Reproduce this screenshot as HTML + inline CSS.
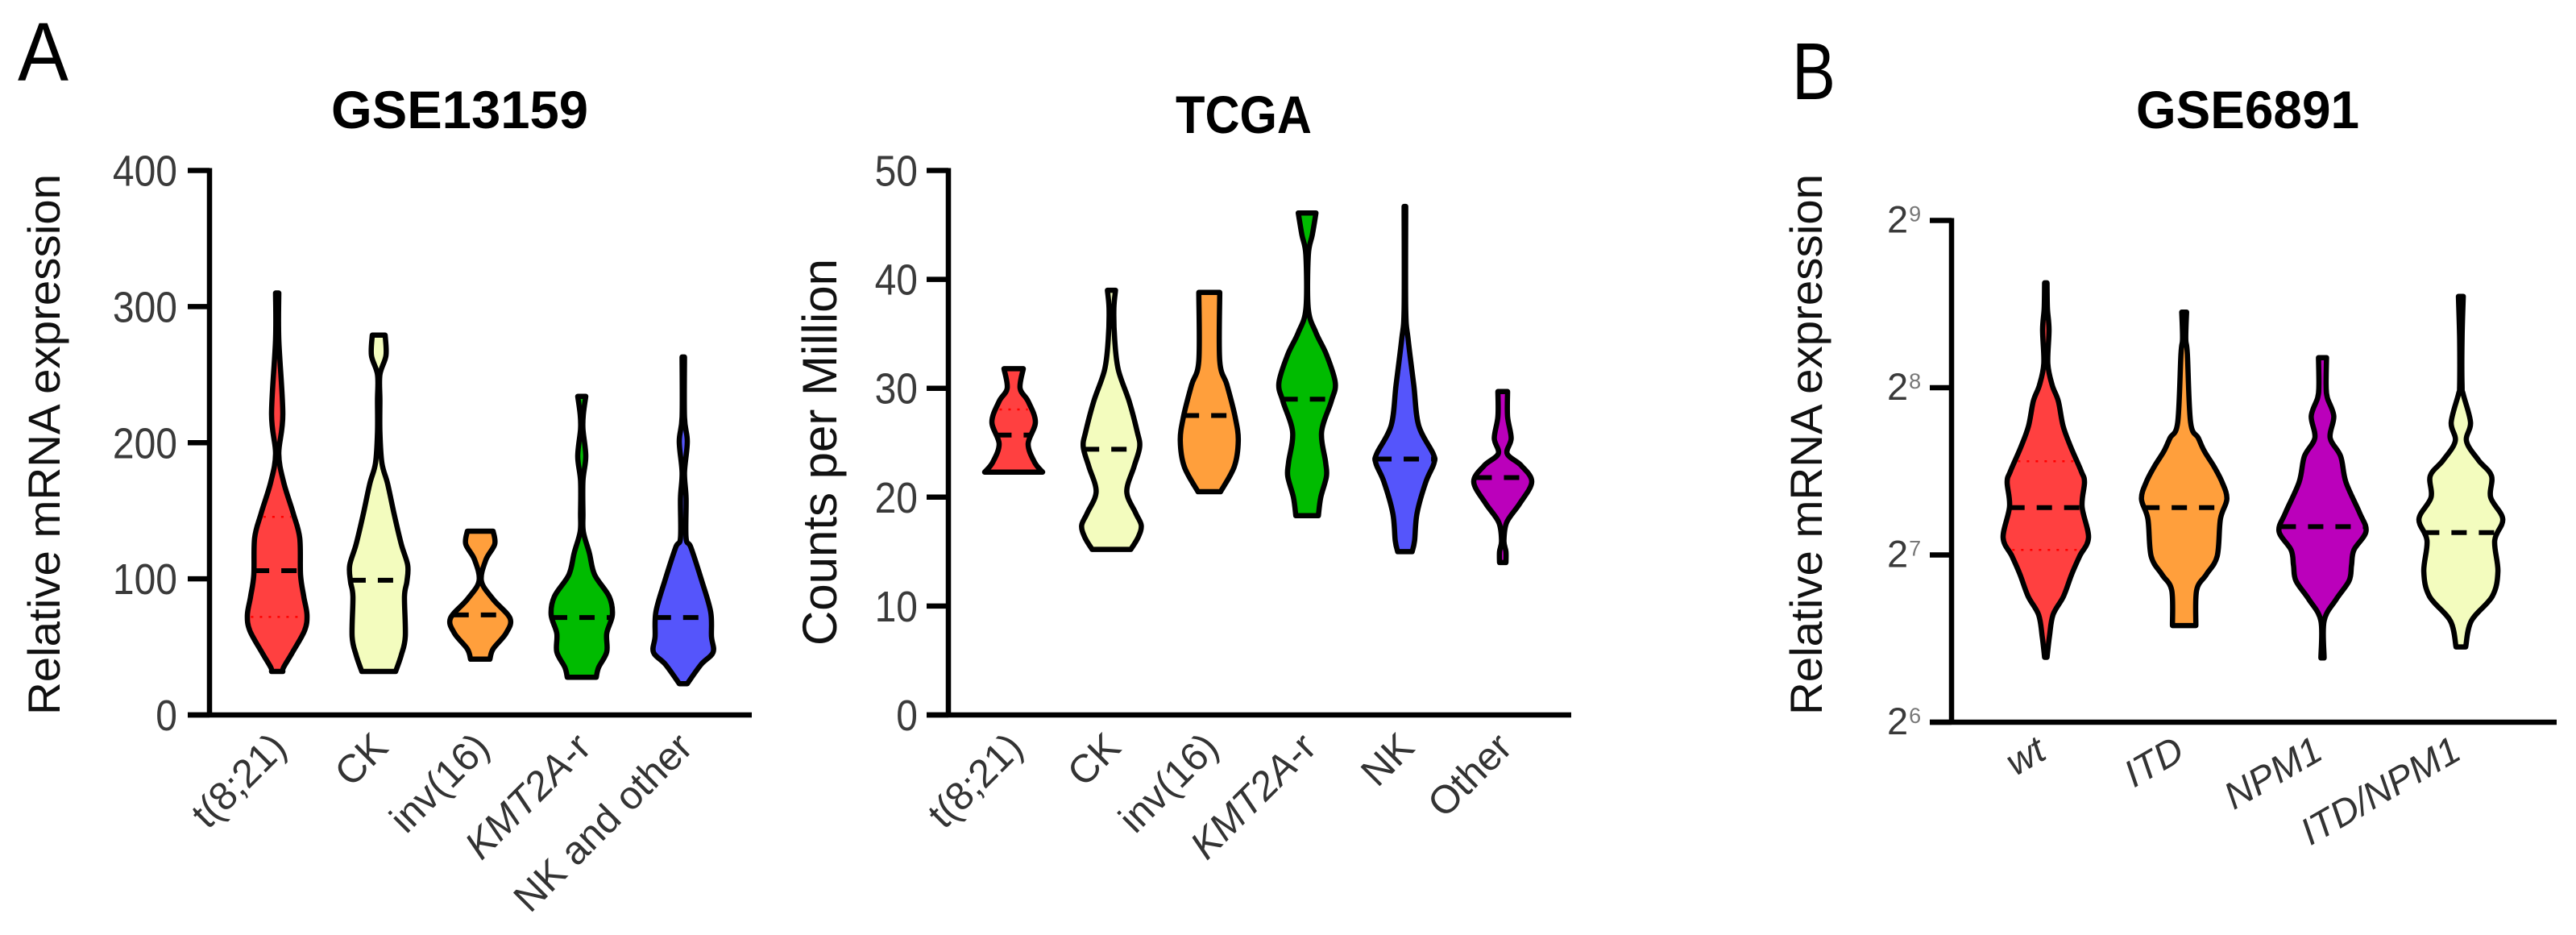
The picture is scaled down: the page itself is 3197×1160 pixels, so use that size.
<!DOCTYPE html>
<html lang="en">
<head>
<meta charset="utf-8">
<title>Violin plots of relative mRNA expression</title>
<style>
html,body{margin:0;padding:0;background:#fff;}
svg{display:block;font-family:"Liberation Sans",sans-serif;}
</style>
</head>
<body>
<svg id="figure" xmlns="http://www.w3.org/2000/svg" width="3197" height="1160" viewBox="0 0 3197 1160">
  <rect x="0" y="0" width="3197" height="1160" fill="#ffffff"/>
  <text x="22" y="100" font-size="103" textLength="63" lengthAdjust="spacingAndGlyphs">A</text>
  <text x="2224" y="123" font-size="100" textLength="54" lengthAdjust="spacingAndGlyphs">B</text>
  <text x="411" y="159" font-size="66" font-weight="bold" textLength="319" lengthAdjust="spacingAndGlyphs">GSE13159</text>
  <text x="1459" y="165" font-size="66" font-weight="bold" textLength="169" lengthAdjust="spacingAndGlyphs">TCGA</text>
  <text x="2651" y="159" font-size="66" font-weight="bold" textLength="277" lengthAdjust="spacingAndGlyphs">GSE6891</text>
  <text transform="translate(74,887) rotate(-90)" font-size="56" fill="#111" textLength="671" lengthAdjust="spacingAndGlyphs">Relative mRNA expression</text>
  <text transform="translate(1038,801) rotate(-90)" font-size="60" fill="#111" textLength="480" lengthAdjust="spacingAndGlyphs">Counts per Million</text>
  <text transform="translate(2261,887) rotate(-90)" font-size="56" fill="#111" textLength="671" lengthAdjust="spacingAndGlyphs">Relative mRNA expression</text>
</svg>
<script>
// ---- GSE13159 data (expression value levels and relative density at each level)
const gseCategories = ['t(8;21)', 'CK', 'inv(16)', 'KMT2A-r', 'NK and other'];
const gseItalicPrefix = ['', '', '', 'KMT2A', ''];
const gseTicks = [0, 100, 200, 300, 400];
const gseMedians = [106, 99, 73.5, 71.6, 71.6];
const gseQuartiles = [[145.5, 72], [], [], [], []];
const gseLevels = [
  [310, 276, 221, 192, 171, 148, 130, 103, 87, 73.5, 62, 46, 35, 32],
  [279, 264, 250, 231, 208, 185, 170, 148, 125.5, 110, 98, 87, 57.6, 44, 32],
  [135, 125.5, 114, 98.4, 85, 71, 60, 48.5, 41],
  [234, 221, 210, 190, 172, 148, 134.6, 118.8, 103, 87, 73.5, 60, 46.3, 35, 27.7],
  [263, 219, 201, 178, 159, 130, 123, 98.4, 75.7, 57.6, 46, 37, 23]
];
const gseDensity = [
  [2, 2, 7, 2, 8, 20, 28, 29, 33, 37, 34, 19, 8, 7],
  [8, 9, 1.5, 1.5, 1.5, 4, 11, 19, 28, 36, 35, 32, 33, 28, 21],
  [16, 18, 7, 1.5, 16, 37, 32, 16, 12],
  [5, 2, 1.5, 5, 1.5, 1.5, 2, 9.5, 16, 34, 38, 31, 31, 21, 18],
  [1.5, 1.5, 5, 1.5, 3.5, 3.5, 9.5, 23, 34, 35, 37, 22, 5]
];

// ---- TCGA data
const tcgaCategories = ['t(8;21)', 'CK', 'inv(16)', 'KMT2A-r', 'NK', 'Other'];
const tcgaItalicPrefix = ['', '', '', 'KMT2A', '', ''];
const tcgaTicks = [0, 10, 20, 30, 40, 50];
const tcgaMedians = [25.7, 24.4, 27.5, 29, 23.5, 21.8];
const tcgaQuartiles = [[28.05], [], [], [], [], []];
const tcgaLevels = [
  [31.8, 30, 28.8, 26.9, 24.9, 23.2, 22.3],
  [39, 37.3, 34.5, 31.7, 28.8, 26, 24.6, 22.8, 20.5, 18.55, 17.4, 16.3, 15.2],
  [38.8, 32.5, 30.3, 27.4, 25.2, 22.8, 20.5],
  [46.1, 44.1, 42.2, 37.3, 35.1, 33.1, 30.5, 28.8, 26, 23.2, 21.9, 20, 18.3],
  [46.7, 37.3, 34.5, 30.3, 26.6, 24, 23.1, 21.4, 18.5, 16, 15],
  [29.7, 27.4, 25.4, 24, 22.9, 21.4, 19.4, 17.7, 16, 15, 14]
];
const tcgaDensity = [
  [12, 8, 18, 27, 18, 26, 36],
  [5, 3, 4, 8.5, 22, 32, 35, 28, 19, 30, 37, 33, 24],
  [13, 13, 22, 32, 36, 31, 14],
  [11, 6.5, 1.5, 1.5, 11, 24, 35, 30, 18, 23, 24, 17, 14],
  [1, 1, 4, 11, 17, 35, 36, 26, 15, 12, 9],
  [6, 6, 10.5, 5.5, 23, 36, 21, 5, 1.5, 4, 4]
];

// ---- GSE6891 data (levels are log2 of expression)
const flt3Categories = ['wt', 'ITD', 'NPM1', 'ITD/NPM1'];
const flt3ItalicPrefix = ['wt', 'ITD', 'NPM1', 'ITD/NPM1'];
const flt3Ticks = [6, 7, 8, 9];
const flt3Medians = [7.283, 7.283, 7.169, 7.134];
const flt3Quartiles = [[7.56, 7.03], [], [], []];
const flt3Levels = [
  [8.627, 8.476, 8.347, 8.144, 8.014, 7.92, 7.77, 7.645, 7.5, 7.436, 7.29, 7.104, 6.993, 6.883, 6.753, 6.643, 6.513, 6.388],
  [8.452, 8.291, 8.2, 7.793, 7.7, 7.621, 7.529, 7.436, 7.335, 7.215, 6.993, 6.883, 6.79, 6.578],
  [8.18, 8.014, 7.94, 7.83, 7.7, 7.59, 7.436, 7.252, 7.141, 7.03, 6.938, 6.846, 6.735, 6.606, 6.384],
  [8.546, 8.291, 8.014, 7.96, 7.793, 7.68, 7.566, 7.473, 7.344, 7.215, 7.086, 6.901, 6.753, 6.606, 6.45]
];
const flt3Density = [
  [1.5, 2, 4, 2.5, 8, 15.5, 21.5, 31, 44, 48, 45, 53, 42, 32, 22, 9, 4.5, 1.5],
  [3, 2, 4, 8, 17.5, 25, 37, 47, 53, 45, 41, 27.5, 15.5, 14.5],
  [5, 4.5, 6, 14, 9.5, 22.5, 29, 46, 54, 39, 36, 33, 17, 2, 2],
  [3, 1.5, 1.5, 3, 12, 7, 22, 38, 37, 52, 42, 46, 39, 13, 6]
];

// ---- Series colours
const RED = '#ff4040', CREAM = '#f3fcbe', ORANGE = '#ff9f3c', GREEN = '#00bb00', BLUE = '#5555fb', PURPLE = '#bb00bb';
const gseColors = [RED, CREAM, ORANGE, GREEN, BLUE];
const tcgaColors = [RED, CREAM, ORANGE, GREEN, BLUE, PURPLE];
const flt3Colors = [RED, ORANGE, PURPLE, CREAM];

const SVGNS = 'http://www.w3.org/2000/svg';
const figure = document.getElementById('figure');

function make(tag, attrs, parent) {
  const el = document.createElementNS(SVGNS, tag);
  for (const k in attrs) el.setAttribute(k, attrs[k]);
  (parent || figure).appendChild(el);
  return el;
}

function slug(s) {
  return s.toLowerCase().replace(/[^a-z0-9]+/g, '-').replace(/^-|-$/g, '');
}

function sidePath(points) {
  // Catmull-Rom through the outline points, expressed as cubic segments
  let d = '';
  for (let i = 0; i < points.length - 1; i++) {
    const p0 = points[Math.max(0, i - 1)];
    const p1 = points[i];
    const p2 = points[i + 1];
    const p3 = points[Math.min(points.length - 1, i + 2)];
    const c1x = p1[0] + (p2[0] - p0[0]) / 6;
    const c1y = p1[1] + (p2[1] - p0[1]) / 6;
    const c2x = p2[0] - (p3[0] - p1[0]) / 6;
    const c2y = p2[1] - (p3[1] - p1[1]) / 6;
    d += ' C' + c1x.toFixed(1) + ' ' + c1y.toFixed(1) + ' ' + c2x.toFixed(1) + ' ' + c2y.toFixed(1) + ' ' + p2[0].toFixed(1) + ' ' + p2[1].toFixed(1);
  }
  return d;
}

function densityAt(levels, density, value) {
  for (let i = 0; i < levels.length - 1; i++) {
    if (value <= levels[i] && value >= levels[i + 1]) {
      const t = (levels[i] - value) / (levels[i] - levels[i + 1]);
      return density[i] + t * (density[i + 1] - density[i]);
    }
  }
  return density[density.length - 1];
}

function drawChart(c) {
  const key = c.key;
  const yScale = function (v) {
    return c.yBottom + (v - c.ticks[0]) / (c.ticks[c.ticks.length - 1] - c.ticks[0]) * (c.yTop - c.yBottom);
  };
  const xScale = function (i) {
    return c.xFirst + i * c.xStep;
  };

  const group = make('g', {});
  
  

  // violins
  c.levels.forEach(function (levels, i) {
    const density = c.density[i];
    const cx = xScale(i);
    const right = levels.map(function (v, j) { return [cx + density[j], yScale(v)]; });
    const left = levels.map(function (v, j) { return [cx - density[j], yScale(v)]; }).reverse();
    const d = 'M' + right[0][0].toFixed(1) + ' ' + right[0][1].toFixed(1) + sidePath(right) +
      ' L' + left[0][0].toFixed(1) + ' ' + left[0][1].toFixed(1) + sidePath(left) + ' Z';
    const violin = make('path', { d: d, fill: c.colors[i], stroke: '#000', 'stroke-width': 6.5, 'stroke-linejoin': 'round' }, group);
    
    

    c.quartiles[i].forEach(function (q, n) {
      const qw = densityAt(levels, density, q);
      const quartile = make('line', {
        x1: cx - qw + 4, x2: cx + qw - 4, y1: yScale(q), y2: yScale(q),
        stroke: '#ff0000', 'stroke-width': 2.5, 'stroke-dasharray': '3 8'
      }, group);
      
      
    });

    const hw = densityAt(levels, density, c.medians[i]);
    const median = make('line', {
      x1: cx - hw, x2: cx + hw, y1: yScale(c.medians[i]), y2: yScale(c.medians[i]),
      stroke: '#000', 'stroke-width': 6, 'stroke-dasharray': '19 15'
    }, group);
    
    
  });

  // y axis
  const yAxis = make('line', { x1: c.axisX, x2: c.axisX, y1: yScale(c.ticks[c.ticks.length - 1]) - 3, y2: c.yBottom + 3, stroke: '#000', 'stroke-width': 6.5 }, group);
  
  

  c.ticks.forEach(function (t) {
    const y = yScale(t);
    const tick = make('line', { x1: c.axisX - 27, x2: c.axisX, y1: y, y2: y, stroke: '#000', 'stroke-width': 6.5 }, group);
    
    

    let label;
    if (c.logBase) {
      label = make('text', { x: c.labelX, y: y + 15, 'font-size': 47, fill: '#3a3a3a' }, group);
      const base = make('tspan', {}, label);
      base.textContent = String(c.logBase);
      const sup = make('tspan', { dy: -14, 'font-size': 27, fill: '#777', dx: 1 }, label);
      sup.textContent = String(t);
    } else {
      const s = String(t);
      label = make('text', { x: c.labelX, y: y + 19, 'font-size': 54, fill: '#3a3a3a', 'text-anchor': 'end', textLength: s.length * 26.7, lengthAdjust: 'spacingAndGlyphs' }, group);
      label.textContent = s;
    }
    
    
  });

  // x axis
  const xAxis = make('line', { x1: c.axisX - 27, x2: c.xEnd, y1: c.yBottom, y2: c.yBottom, stroke: '#000', 'stroke-width': 6.5 }, group);
  
  

  // category labels
  c.categories.forEach(function (name, i) {
    const ax = xScale(i) + c.labelDx;
    const label = make('text', {
      transform: 'translate(' + ax + ',' + c.labelY + ') rotate(' + c.labelAngle + ')',
      'text-anchor': 'end', 'font-size': c.labelSize, fill: '#333'
    }, group);
    
    
    const prefix = c.italic[i];
    if (prefix) {
      const it = make('tspan', { 'font-style': 'italic' }, label);
      it.textContent = prefix;
      const rest = name.slice(prefix.length);
      if (rest) {
        const tail = make('tspan', {}, label);
        tail.textContent = rest;
      }
    } else {
      label.textContent = name;
    }
  });
}

drawChart({
  key: 'gse13159', categories: gseCategories, italic: gseItalicPrefix, ticks: gseTicks,
  medians: gseMedians, quartiles: gseQuartiles, levels: gseLevels, density: gseDensity, colors: gseColors,
  yBottom: 887, yTop: 211.5, xFirst: 344, xStep: 126, axisX: 260, xEnd: 933, labelX: 220,
  labelDx: 14, labelY: 930, labelAngle: -45, labelSize: 49
});
drawChart({
  key: 'tcga', categories: tcgaCategories, italic: tcgaItalicPrefix, ticks: tcgaTicks,
  medians: tcgaMedians, quartiles: tcgaQuartiles, levels: tcgaLevels, density: tcgaDensity, colors: tcgaColors,
  yBottom: 887, yTop: 211.5, xFirst: 1258, xStep: 121.4, axisX: 1177, xEnd: 1950, labelX: 1139,
  labelDx: 14, labelY: 930, labelAngle: -45, labelSize: 49
});
drawChart({
  key: 'gse6891', categories: flt3Categories, italic: flt3ItalicPrefix, ticks: flt3Ticks,
  medians: flt3Medians, quartiles: flt3Quartiles, levels: flt3Levels, density: flt3Density, colors: flt3Colors,
  yBottom: 896, yTop: 273.5, xFirst: 2539, xStep: 171.7, axisX: 2422, xEnd: 3173, labelX: 2342, logBase: 2,
  labelDx: 3, labelY: 940, labelAngle: -30, labelSize: 47
});
</script>
</body>
</html>
